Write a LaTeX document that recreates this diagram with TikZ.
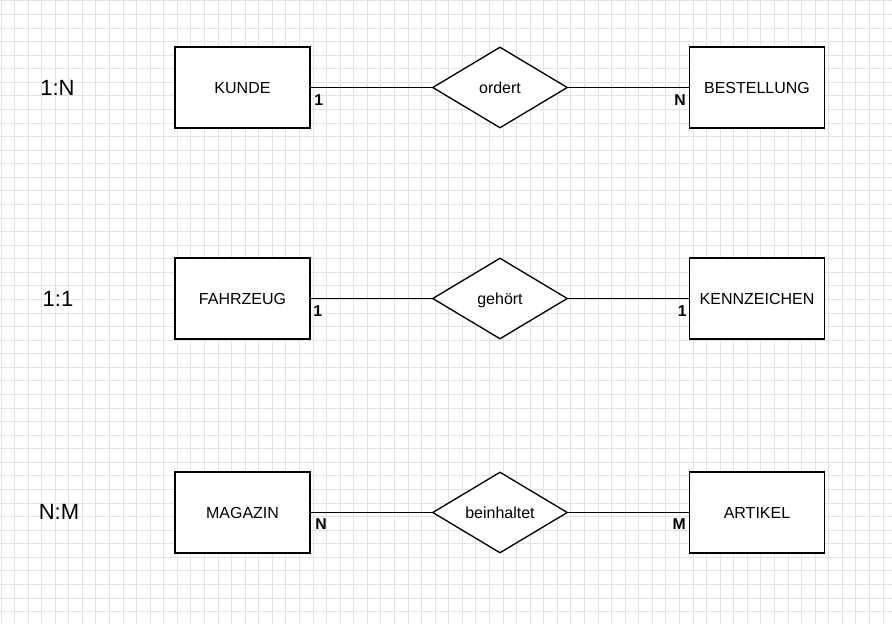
\documentclass[tikz,border=0pt]{standalone}
\usepackage{fontspec}
\setmainfont{Liberation Sans}
\usetikzlibrary{shapes.geometric}
\definecolor{gridgray}{HTML}{E3E3E3}
\begin{document}
\begin{tikzpicture}[x=0.75pt,y=-0.75pt,
	entity/.style={rectangle, draw, fill=white, line width=1.1pt, minimum width=101.25pt, minimum height=60.75pt, inner sep=0pt, text height=8.6pt, text depth=0pt, font=\fontsize{12}{14}\selectfont},
	relation/.style={diamond, draw, fill=white, line width=1pt, minimum width=101.25pt, minimum height=60.75pt, aspect=1.667, inner sep=0pt, text height=8.6pt, text depth=0pt, font=\fontsize{12}{14}\selectfont},
	card/.style={inner sep=0pt, text height=8.4pt, text depth=0pt, font=\fontsize{11.8}{14}\selectfont\bfseries},
	kind/.style={inner sep=0pt, text height=11.8pt, text depth=0pt, font=\fontsize{16.5}{19}\selectfont},
	link/.style={line width=0.8pt}]
	    \useasboundingbox (0,0) rectangle (892,624);
	    \foreach \k in {0,...,65}
		\draw[gridgray, line width=0.75pt] ({1+\k*13.57},0) -- ({1+\k*13.57},624);
	    \foreach \k in {0,...,45}
		\draw[gridgray, line width=0.75pt] (0,{1+\k*13.57}) -- (892,{1+\k*13.57});
		
	    \node[kind] (kind1) at (57.5,88) {1:N};
	    \node[kind] (kind2) at (58,298.5) {1:1};
	    \node[kind] (kind3) at (59,512) {N:M};
		
	    \node[entity] (kunde) at (242.5,87.5) {KUNDE};
	    \node[relation] (ordert) at (500,87.5) {ordert};
	    \node[entity] (bestellung) at (757,87.5) {BESTELLUNG};
		
	    \node[entity] (fahrzeug) at (242.5,298.5) {FAHRZEUG};
	    \node[relation] (gehoert) at (500,298.5) {gehört};
	    \node[entity] (kennzeichen) at (757,298.5) {KENNZEICHEN};
		
	    \node[entity] (magazin) at (242.5,512.5) {MAGAZIN};
	    \node[relation] (beinhaltet) at (500,512.5) {beinhaltet};
	    \node[entity] (artikel) at (757,512.5) {ARTIKEL};
		
	    \draw[link] (kunde) -- (ordert);
	    \draw[link] (ordert) -- (bestellung);
	    \draw[link] (fahrzeug) -- (gehoert);
	    \draw[link] (gehoert) -- (kennzeichen);
	    \draw[link] (magazin) -- (beinhaltet);
	    \draw[link] (beinhaltet) -- (artikel);
		
	    \node[card, anchor=west] (c1a) at (314,100) {1};
	    \node[card, anchor=east] (c1b) at (686,100) {N};
	    \node[card, anchor=west] (c2a) at (313,311) {1};
	    \node[card, anchor=east] (c2b) at (687,311) {1};
	    \node[card, anchor=west] (c3a) at (315,523.5) {N};
	    \node[card, anchor=east] (c3b) at (686,523.5) {M};
	\end{tikzpicture}
\end{document}
